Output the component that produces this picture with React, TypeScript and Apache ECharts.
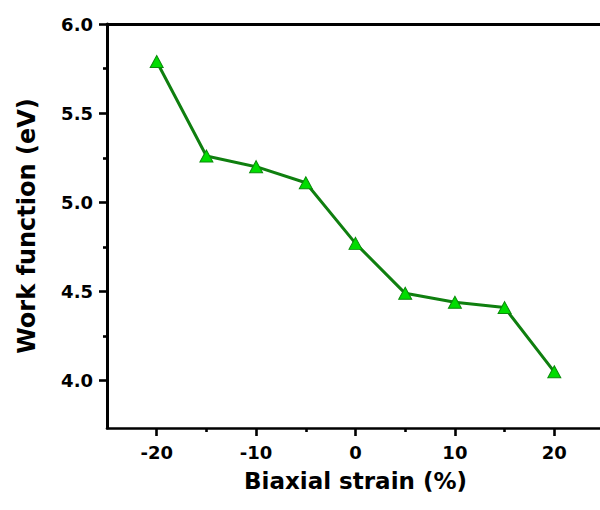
import React, { useEffect, useRef } from "react";
import * as echarts from "echarts";

// Work function versus biaxial strain
const strainPct = [-20, -15, -10, -5, 0, 5, 10, 15, 20];
const workFunction = [5.79, 5.26, 5.2, 5.11, 4.77, 4.49, 4.44, 4.41, 4.05];

const xMajorTicks = [-20, -10, 0, 10, 20];
const xMinorTicks = [-15, -5, 5, 15];
const yMajorTicks = [4.0, 4.5, 5.0, 5.5, 6.0];
const yMinorTicks = [4.25, 4.75, 5.25, 5.75];

const X_MIN = -25;
const X_MAX = 25;
const Y_MIN = 3.735;
const Y_MAX = 6.0;

const FONT = "DejaVu Sans";

export default function App() {
  const ref = useRef<HTMLDivElement>(null);

  useEffect(() => {
    if (!ref.current) return;
    const chart = echarts.init(ref.current, undefined, { renderer: "svg" });

    const lineStyle = { color: "#000", width: 2.6 };
    const hiddenAxisBits = {
      axisLabel: { show: false },
      splitLine: { show: false },
    };

    chart.setOption({
      animation: false,
      backgroundColor: "#fff",
      // the frame runs slightly past the visible right edge
      grid: { left: 107, top: 24, right: 6, bottom: 82 },
      xAxis: [
        {
          type: "value",
          position: "bottom",
          min: X_MIN,
          max: X_MAX,
          name: "Biaxial strain (%)",
          nameLocation: "middle",
          nameGap: 41,
          nameTextStyle: { fontFamily: FONT, fontWeight: "bold", fontSize: 23, color: "#000" },
          axisLine: { show: true, onZero: false, lineStyle },
          axisTick: { show: true, inside: false, length: 8, customValues: xMajorTicks, lineStyle },
          axisLabel: {
            show: true,
            customValues: xMajorTicks,
            margin: 15,
            fontFamily: FONT,
            fontWeight: "bold",
            fontSize: 18,
            color: "#000",
          },
          splitLine: { show: false },
        },
        {
          type: "value",
          position: "bottom",
          min: X_MIN,
          max: X_MAX,
          axisLine: { show: false, onZero: false },
          axisTick: { show: true, length: 4, customValues: xMinorTicks, lineStyle },
          ...hiddenAxisBits,
        },
        {
          type: "value",
          position: "top",
          min: X_MIN,
          max: X_MAX,
          axisLine: { show: true, onZero: false, lineStyle: { color: "#000", width: 3 } },
          axisTick: { show: false },
          ...hiddenAxisBits,
        },
      ],
      yAxis: [
        {
          type: "value",
          position: "left",
          min: Y_MIN,
          max: Y_MAX,
          name: "Work function (eV)",
          nameLocation: "middle",
          nameGap: 68,
          nameTextStyle: { fontFamily: FONT, fontWeight: "bold", fontSize: 24, color: "#000" },
          axisLine: { show: true, onZero: false, lineStyle: { color: "#000", width: 3 } },
          axisTick: { show: true, length: 8, customValues: yMajorTicks, lineStyle },
          axisLabel: {
            show: true,
            customValues: yMajorTicks,
            margin: 14,
            fontFamily: FONT,
            fontWeight: "bold",
            fontSize: 18,
            color: "#000",
            formatter: (v: number) => v.toFixed(1),
          },
          splitLine: { show: false },
        },
        {
          type: "value",
          position: "left",
          min: Y_MIN,
          max: Y_MAX,
          axisLine: { show: false, onZero: false },
          axisTick: { show: true, length: 4, customValues: yMinorTicks, lineStyle },
          ...hiddenAxisBits,
        },
        {
          type: "value",
          position: "right",
          min: Y_MIN,
          max: Y_MAX,
          axisLine: { show: true, onZero: false, lineStyle: { color: "#000", width: 3 } },
          axisTick: { show: false },
          ...hiddenAxisBits,
        },
      ],
      series: [
        {
          type: "line",
          xAxisIndex: 0,
          yAxisIndex: 0,
          data: strainPct.map((x, i) => [x, workFunction[i]]),
          symbol: "triangle",
          symbolSize: [13, 12],
          showAllSymbol: true,
          lineStyle: { color: "#0f7f0f", width: 3 },
          itemStyle: { color: "#00dd00", borderColor: "#0a8a0a", borderWidth: 1 },
          z: 5,
        },
      ],
    });

    return () => chart.dispose();
  }, []);

  return (
    <div
      style={{
        position: "fixed",
        left: 0,
        top: 0,
        width: 600,
        height: 510,
        overflow: "hidden",
        background: "#fff",
      }}
    >
      <div ref={ref} style={{ width: 610, height: 510 }} />
    </div>
  );
}
